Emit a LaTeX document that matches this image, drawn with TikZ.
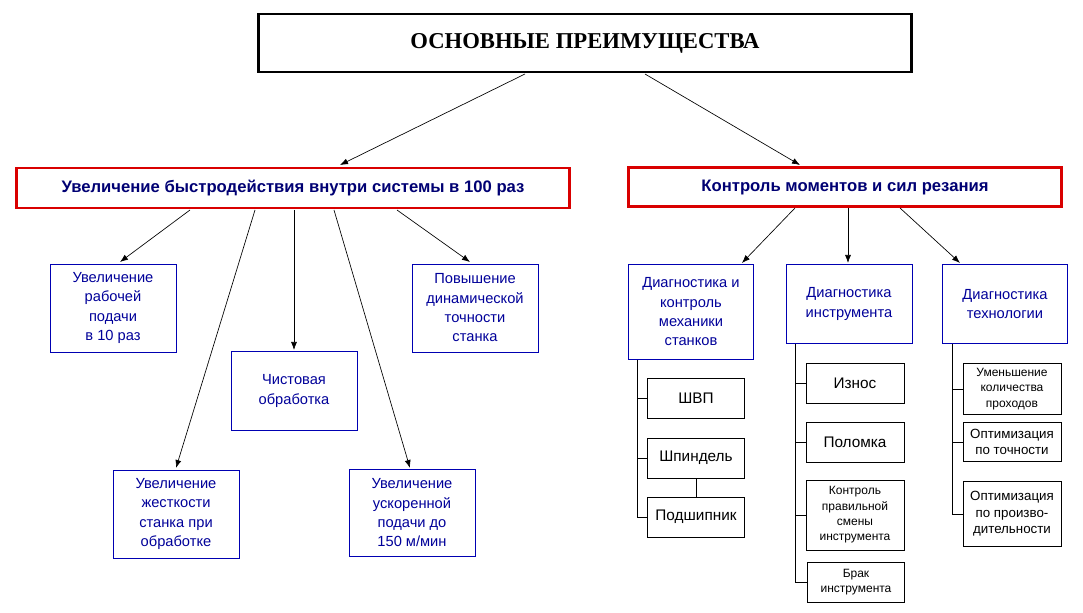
\documentclass[tikz,border=0pt]{standalone}
\usepackage{fontspec}
\usetikzlibrary{arrows.meta}
\setmainfont{Liberation Sans}
\newfontfamily\serifb{Liberation Serif}
\begin{document}
\begin{tikzpicture}[x=0.75pt,y=-0.75pt,
 bx/.style={draw,rectangle,inner sep=1pt,align=center},
 blue/.style={bx,draw=blue!70!black,text=blue!60!black,font=\fontsize{11}{14.5}\selectfont,line width=0.6pt},
 redb/.style={bx,draw=red!85!black,line width=1.8pt,text=blue!45!black,font=\bfseries\fontsize{12.5}{14}\selectfont},
 blk/.style={bx,draw=black,line width=0.6pt,font=\fontsize{11.5}{14}\selectfont},
 sm/.style={blk,font=\fontsize{9}{11.5}\selectfont},
 arr/.style={-{Latex[length=6pt,width=4.5pt]},line width=0.5pt},
 ln/.style={line width=0.5pt}]
\useasboundingbox (0,0) rectangle (1083,613);
\node[bx,line width=2.2pt,minimum width=490pt,minimum height=43.5pt,font=\serifb\bfseries\fontsize{17}{20}\selectfont] (T) at (585,43) {ОСНОВНЫЕ ПРЕИМУЩЕСТВА};
\node[redb,minimum width=415pt,minimum height=30pt] (L) at (293,188) {Увеличение быстродействия внутри системы в 100 раз};
\node[redb,minimum width=325pt,minimum height=29pt] (R) at (845,187) {Контроль моментов и сил резания};
\draw[arr] (525,74) -- (340,165);
\draw[arr] (645,74) -- (800,165);
\node[blue,minimum width=94.5pt,minimum height=66pt] (A) at (113,308) {Увеличение\\рабочей\\подачи\\в 10 раз};
\node[blue,minimum width=94.5pt,minimum height=66pt] (B) at (475,308) {Повышение\\динамической\\точности\\станка};
\node[blue,minimum width=94.5pt,minimum height=59pt] (C) at (294,391) {Чистовая\\обработка};
\node[blue,minimum width=94.5pt,minimum height=66pt] (D) at (176,514) {Увеличение\\жесткости\\станка при\\обработке};
\node[blue,minimum width=94.5pt,minimum height=65pt] (E) at (412,513) {Увеличение\\ускоренной\\подачи до\\150 м/мин};
\draw[arr] (190,210) -- (120,262);
\draw[arr] (255,210) -- (176,468);
\draw[arr] (294,210) -- (294,350);
\draw[arr] (334,210) -- (410,468);
\draw[arr] (397,210) -- (470,262);
\node[blue,minimum width=94pt,minimum height=71pt] (F) at (691,312) {Диагностика и\\контроль\\механики\\станков};
\node[blue,minimum width=94.5pt,minimum height=59pt] (G) at (849,304) {Диагностика\\инструмента};
\node[blue,minimum width=94pt,minimum height=59pt] (H) at (1005,304) {Диагностика\\технологии};
\draw[arr] (795,208) -- (742,263);
\draw[arr] (848,208) -- (848,263);
\draw[arr] (900,208) -- (960,263);
% column 1
\node[blk,minimum width=73pt,minimum height=30pt] (F1) at (696,398) {ШВП};
\node[blk,minimum width=73pt,minimum height=30pt] (F2) at (696,458) {Шпиндель};
\node[blk,minimum width=73pt,minimum height=30pt] (F3) at (696,517) {Подшипник};
\draw[ln] (637,360) -- (637,517) -- (F3.west);
\draw[ln] (637,398) -- (F1.west); \draw[ln] (637,458) -- (F2.west);
\draw[ln] (F2.south) -- (F3.north);
% column 2
\node[blk,minimum width=73.5pt,minimum height=30pt] (G1) at (855,383) {Износ};
\node[blk,minimum width=73.5pt,minimum height=30pt] (G2) at (855,442) {Поломка};
\node[sm,minimum width=73.5pt,minimum height=52.5pt] (G3) at (855,515) {Контроль\\правильной\\смены\\инструмента};
\node[sm,minimum width=73pt,minimum height=30pt] (G4) at (856,582) {Брак\\инструмента};
\draw[ln] (795,344) -- (795,582) -- (G4.west);
\draw[ln] (795,383) -- (G1.west); \draw[ln] (795,442) -- (G2.west); \draw[ln] (795,515) -- (G3.west);
% column 3
\node[sm,minimum width=73.5pt,minimum height=38pt] (H1) at (1012,389) {Уменьшение\\количества\\проходов};
\node[sm,font=\fontsize{10}{12.5}\selectfont,minimum width=73.5pt,minimum height=29pt] (H2) at (1012,442) {Оптимизация\\по точности};
\node[sm,font=\fontsize{10}{12.5}\selectfont,minimum width=73.5pt,minimum height=49pt] (H3) at (1012,514) {Оптимизация\\по произво-\\дительности};
\draw[ln] (952,344) -- (952,514) -- (H3.west);
\draw[ln] (952,389) -- (H1.west); \draw[ln] (952,442) -- (H2.west);
\end{tikzpicture}
\end{document}
